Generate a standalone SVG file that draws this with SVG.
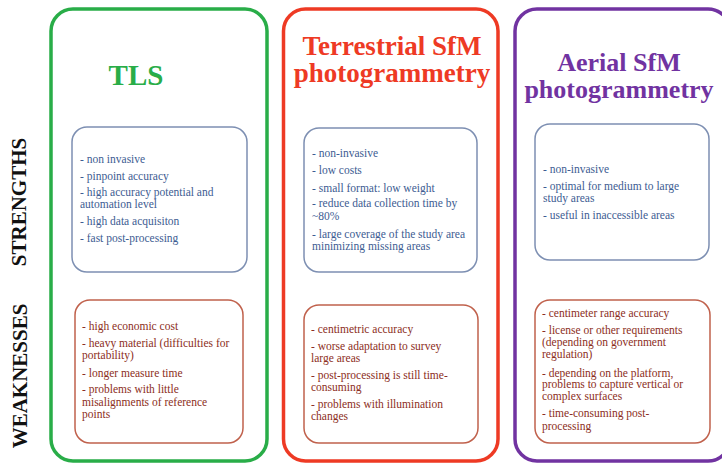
<svg xmlns="http://www.w3.org/2000/svg" width="722" height="464" viewBox="0 0 722 464">
<style>
.col{fill:none;stroke-width:3.5}
.title{font-family:"Liberation Serif","Times New Roman",serif;font-weight:bold;font-size:26px;text-anchor:middle}
.side{font-family:"Liberation Serif","Times New Roman",serif;font-weight:bold;font-size:21px;fill:#111;text-anchor:middle}
.sbox{fill:#fff;stroke:#7d8fb2;stroke-width:1.5}
.wbox{fill:#fff;stroke:#c0614c;stroke-width:1.5}
.st{font-family:"Liberation Serif","Times New Roman",serif;font-size:11.5px;fill:#3d5c92}
.wt{font-family:"Liberation Serif","Times New Roman",serif;font-size:11.5px;fill:#8c2e22}
</style>
<rect width="722" height="464" fill="#fff"/>
<g id="labels">
<text class="side" transform="translate(26,202) rotate(-90)">STRENGTHS</text>
<text class="side" transform="translate(27,376) rotate(-90)">WEAKNESSES</text>
</g>
<g id="tls">
<rect class="col" x="51" y="9" width="216" height="452" rx="22" stroke="#29ad48"/>
<text class="title" x="136" y="85" style="font-size:29px" fill="#29ad48">TLS</text>
</g>
<g id="terrestrial">
<rect class="col" x="283.5" y="9" width="214.5" height="452" rx="22" stroke="#ee3a24"/>
<text class="title" x="392" y="55" style="font-size:27px" fill="#ee3a24">Terrestrial SfM</text>
<text class="title" x="392" y="82" style="font-size:27px" fill="#ee3a24">photogrammetry</text>
</g>
<g id="aerial">
<rect class="col" x="515" y="9" width="215" height="452" rx="22" stroke="#7133a1"/>
<text class="title" x="619" y="71" fill="#7133a1">Aerial SfM</text>
<text class="title" x="619" y="98" fill="#7133a1">photogrammetry</text>
</g>
<g id="tls-strengths">
<rect class="sbox" x="72" y="127" width="175" height="145" rx="15"/>
<text class="st" x="80" y="163">- non invasive</text>
<text class="st" x="80" y="180">- pinpoint accuracy</text>
<text class="st" x="80" y="196">- high accuracy potential and</text>
<text class="st" x="80" y="208">automation level</text>
<text class="st" x="80" y="225">- high data acquisiton</text>
<text class="st" x="80" y="242">- fast post-processing</text>
</g>
<g id="terrestrial-strengths">
<rect class="sbox" x="304" y="128" width="173" height="144" rx="15"/>
<text class="st" x="312" y="157">- non-invasive</text>
<text class="st" x="312" y="174">- low costs</text>
<text class="st" x="312" y="192">- small format: low weight</text>
<text class="st" x="312" y="207">- reduce data collection time by</text>
<text class="st" x="312" y="220">~80%</text>
<text class="st" x="312" y="238">- large coverage of the study area</text>
<text class="st" x="312" y="250">minimizing missing areas</text>
</g>
<g id="aerial-strengths">
<rect class="sbox" x="535" y="124" width="174" height="136" rx="15"/>
<text class="st" x="543" y="173">- non-invasive</text>
<text class="st" x="543" y="190">- optimal for medium to large</text>
<text class="st" x="543" y="202">study areas</text>
<text class="st" x="543" y="219">- useful in inaccessible areas</text>
</g>
<g id="tls-weaknesses">
<rect class="wbox" x="75" y="300" width="168" height="143" rx="15"/>
<text class="wt" x="82" y="330">- high economic cost</text>
<text class="wt" x="82" y="347">- heavy material (difficulties for</text>
<text class="wt" x="82" y="359">portability)</text>
<text class="wt" x="82" y="377">- longer measure time</text>
<text class="wt" x="82" y="393">- problems with little</text>
<text class="wt" x="82" y="406">misalignments of reference</text>
<text class="wt" x="82" y="418">points</text>
</g>
<g id="terrestrial-weaknesses">
<rect class="wbox" x="304" y="305" width="174" height="138" rx="15"/>
<text class="wt" x="311" y="333">- centimetric accuracy</text>
<text class="wt" x="311" y="350">- worse adaptation  to survey</text>
<text class="wt" x="311" y="362">large areas</text>
<text class="wt" x="311" y="379">- post-processing is still time-</text>
<text class="wt" x="311" y="391">consuming</text>
<text class="wt" x="311" y="408">- problems with  illumination</text>
<text class="wt" x="311" y="420">changes</text>
</g>
<g id="aerial-weaknesses">
<rect class="wbox" x="535" y="300" width="175" height="143" rx="15"/>
<text class="wt" x="542" y="317">- centimeter range accuracy</text>
<text class="wt" x="542" y="334">- license or other requirements</text>
<text class="wt" x="542" y="346">(depending  on government</text>
<text class="wt" x="542" y="358">regulation)</text>
<text class="wt" x="542" y="377">- depending  on the platform,</text>
<text class="wt" x="542" y="388">problems to capture vertical or</text>
<text class="wt" x="542" y="400">complex surfaces</text>
<text class="wt" x="542" y="417">- time-consuming post-</text>
<text class="wt" x="542" y="430">processing</text>
</g>
<g id="connectors"></g>
</svg>
